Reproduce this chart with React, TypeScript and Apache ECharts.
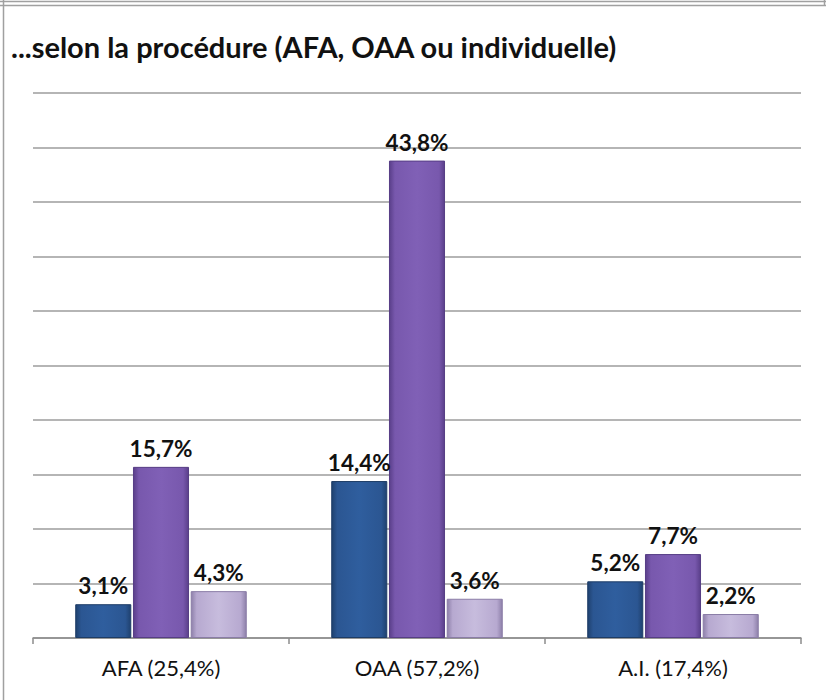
import React, { useEffect, useRef } from "react";
import * as echarts from "echarts";

const title = "...selon la procédure (AFA, OAA ou individuelle)";
const categories = ["AFA (25,4%)", "OAA (57,2%)", "A.I. (17,4%)"];
const seriesNames = ["Série 1", "Série 2", "Série 3"];
const seriesA = [3.1, 14.4, 5.2];
const seriesB = [15.7, 43.8, 7.7];
const seriesC = [4.3, 3.6, 2.2];
const yMin = 0;
const yMax = 50;
const yInterval = 5;

const fmt = (v: number) => v.toFixed(1).replace(".", ",") + "%";

function grad(light: string, mid: string, dark: string) {
  return new echarts.graphic.LinearGradient(0, 0, 1, 0, [
    { offset: 0, color: dark },
    { offset: 0.1, color: mid },
    { offset: 0.5, color: light },
    { offset: 0.9, color: mid },
    { offset: 1, color: dark },
  ]);
}

export default function App() {
  const ref = useRef<HTMLDivElement>(null);
  useEffect(() => {
    if (!ref.current) return;
    const chart = echarts.init(ref.current, null, { renderer: "svg" });
    const label = {
      show: true,
      position: "top" as const,
      distance: 7,
      fontFamily: "Lato, 'Open Sans', sans-serif",
      fontWeight: "bold" as const,
      fontSize: 22.5,
      color: "#111",
      formatter: (p: any) => fmt(p.value),
    };
    const mk = (name: string, data: number[], fill: any, border: string) => ({
      name,
      type: "bar",
      data,
      barGap: "3%",
      barCategoryGap: "33%",
      itemStyle: { color: fill, borderColor: border, borderWidth: 1 },
      label,
    });
    chart.setOption({
      animation: false,
      backgroundColor: "#fff",
      title: {
        text: title,
        left: 6,
        top: 27,
        textStyle: {
          fontFamily: "Lato, 'Open Sans', sans-serif",
          fontWeight: "bold",
          fontSize: 29,
          color: "#111",
        },
      },
      grid: { left: 33, right: 25, top: 93, bottom: 62, containLabel: false },
      xAxis: {
        type: "category",
        data: categories,
        axisLine: { lineStyle: { color: "#8c8c8c", width: 1.5 } },
        axisTick: { show: true, length: 6, lineStyle: { color: "#8c8c8c", width: 1.5 } },
        axisLabel: {
          margin: 18,
          fontFamily: "Lato, 'Open Sans', sans-serif",
          fontSize: 22,
          color: "#111",
        },
      },
      yAxis: {
        type: "value",
        min: yMin,
        max: yMax,
        interval: yInterval,
        axisLabel: { show: false },
        axisLine: { show: false },
        axisTick: { show: false },
        splitLine: { lineStyle: { color: "#9c9c9c", width: 1.5 } },
      },
      series: [
        mk(seriesNames[0], seriesA, grad("#2f5e9e", "#2b5692", "#1f416f"), "#1d3c66"),
        mk(seriesNames[1], seriesB, grad("#8060b6", "#7858ad", "#5a3f8a"), "#563d85"),
        mk(seriesNames[2], seriesC, grad("#c7bcdd", "#b7a9d0", "#8e80aa"), "#8a7ca6"),
      ],
      graphic: [
        { type: "line", shape: { x1: 0, y1: 1.5, x2: 826, y2: 1.5 }, style: { stroke: "#a0a0a0", lineWidth: 1.5 } },
        { type: "line", shape: { x1: 0, y1: 5.5, x2: 826, y2: 5.5 }, style: { stroke: "#a0a0a0", lineWidth: 1.5 } },
        { type: "line", shape: { x1: 3.5, y1: 0, x2: 3.5, y2: 700 }, style: { stroke: "#a0a0a0", lineWidth: 1.5 } },
        { type: "line", shape: { x1: 824.5, y1: 0, x2: 824.5, y2: 6 }, style: { stroke: "#a0a0a0", lineWidth: 1.5 } },
      ],
    });
    return () => chart.dispose();
  }, []);
  return (
    <div
      ref={ref}
      style={{ position: "fixed", left: 0, top: 0, width: 826, height: 700 }}
    />
  );
}
